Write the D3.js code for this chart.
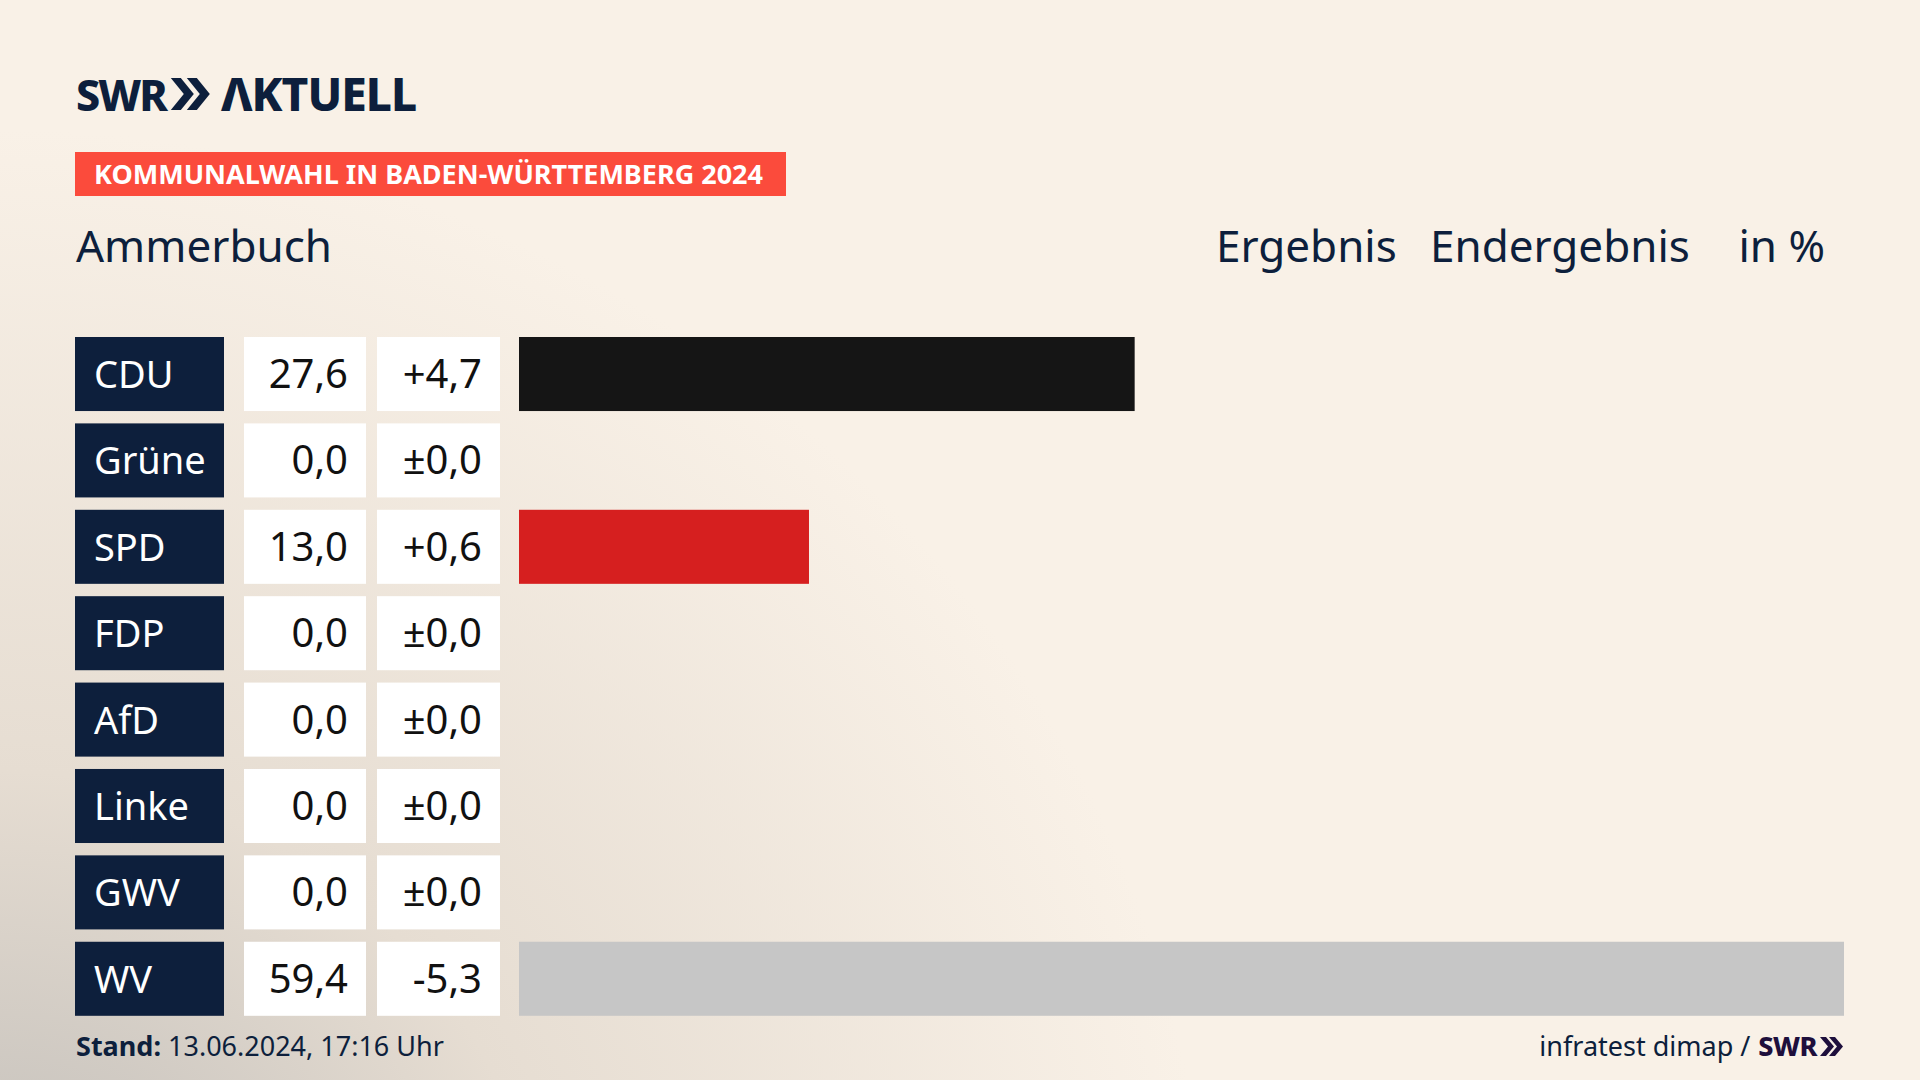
<!DOCTYPE html>
<html><head><meta charset="utf-8">
<script src="https://cdn.jsdelivr.net/npm/d3@7"></script>
<style>html,body{margin:0;padding:0;overflow:hidden}svg{display:block}</style>
</head><body>
<script>
const parties = ["CDU","Grüne","SPD","FDP","AfD","Linke","GWV","WV"];
const results = [27.6,0.0,13.0,0.0,0.0,0.0,0.0,59.4];
const diffs = ["+4,7","±0,0","+0,6","±0,0","±0,0","±0,0","±0,0","-5,3"];
const barColors = ["#151515","#1e8f3a","#d61f1f","#f5d000","#1a9fdb","#b0206e","#777777","#c6c6c6"];

const W=1920,H=1080,F="'Noto Sans', 'Open Sans', sans-serif";
const svg=d3.select("body").append("svg").attr("width",W).attr("height",H);
const defs=svg.append("defs");
const rg=defs.append("radialGradient").attr("id","bg").attr("cx","0").attr("cy","1").attr("r","0.9")
 .attr("gradientTransform","scale(0.7,1.2)");
rg.append("stop").attr("offset","0").attr("stop-color","#bdbab6");
rg.append("stop").attr("offset","0.45").attr("stop-color","#e6ddd2");
rg.append("stop").attr("offset","1").attr("stop-color","#f9f1e7");
svg.append("rect").attr("width",W).attr("height",H).attr("fill","#f9f1e7");
svg.append("rect").attr("width",W).attr("height",H).attr("fill","url(#bg)");

const navy="#0d1f3c";
// logo
const s1=svg.append("text").attr("x",76).attr("y",111).attr("font-family",F).attr("font-weight",800)
 .attr("font-size",43).attr("fill",navy).attr("letter-spacing",-2).text("SWR");
const e1=76+s1.node().getComputedTextLength()+5;
[0,16].forEach(dx=>svg.append("path").attr("d",`M${e1+dx},78 l10,0 l13,16 l-13,16 l-10,0 l13,-16z`).attr("fill",navy));
svg.append("text").attr("x",221).attr("y",111).attr("font-family",F).attr("font-weight",800)
 .attr("font-size",46).attr("fill",navy).attr("letter-spacing",-1).text("ΛKTUELL");
// banner
svg.append("rect").attr("x",75).attr("y",152).attr("width",711).attr("height",44).attr("fill","#fb4b3c");
svg.append("text").attr("x",94).attr("y",184).attr("font-family",F).attr("font-weight",700)
 .attr("font-size",27).attr("fill","#fff").text("KOMMUNALWAHL IN BADEN-WÜRTTEMBERG 2024");
const hdr=(x,t,a)=>svg.append("text").attr("x",x).attr("y",262).attr("font-family",F)
 .attr("font-size",44).attr("fill",navy).attr("text-anchor",a||"start").text(t);
hdr(76,"Ammerbuch");hdr(1216,"Ergebnis");hdr(1430,"Endergebnis");hdr(1825,"in %","end");

const y=d3.scaleBand().domain(parties).range([337,337+86.4*7+74]).paddingInner(0.143).paddingOuter(0);
const x=d3.scaleLinear().domain([0,59.4]).range([519,1844]);
const fmt=v=>v.toFixed(1).replace(".",",");
const g=svg.selectAll("g.row").data(parties).join("g");
const bh=y.bandwidth();
g.append("rect").attr("x",75).attr("y",d=>y(d)).attr("width",149).attr("height",bh).attr("fill",navy);
g.append("text").attr("x",94).attr("y",d=>y(d)+bh/2+14).attr("font-family",F).attr("font-size",38)
 .attr("fill","#fff").text(d=>d);
g.append("rect").attr("x",244).attr("y",d=>y(d)).attr("width",122).attr("height",bh).attr("fill","#fff");
g.append("text").attr("x",348).attr("y",d=>y(d)+bh/2+14).attr("font-family",F).attr("font-size",40)
 .attr("text-anchor","end").attr("fill","#111").text((d,i)=>fmt(results[i]));
g.append("rect").attr("x",377).attr("y",d=>y(d)).attr("width",123).attr("height",bh).attr("fill","#fff");
g.append("text").attr("x",482).attr("y",d=>y(d)+bh/2+14).attr("font-family",F).attr("font-size",40)
 .attr("text-anchor","end").attr("fill","#111").text((d,i)=>diffs[i]);
g.append("rect").attr("x",x(0)).attr("y",d=>y(d)).attr("width",(d,i)=>x(results[i])-x(0)).attr("height",bh)
 .attr("fill",(d,i)=>barColors[i]);

svg.append("text").attr("x",76).attr("y",1056).attr("font-family",F).attr("font-size",27).attr("fill",navy)
 .html('<tspan font-weight="700">Stand:</tspan> 13.06.2024, 17:16 Uhr');
const sw=svg.append("text").attr("x",0).attr("y",1056).attr("font-family",F).attr("font-weight",800).attr("font-size",27)
 .attr("fill","#1e0f3c").attr("letter-spacing",-0.5).text("SWR");
const swL=sw.node().getComputedTextLength();
const chevStart=1844-24, swX=chevStart-3-swL;
sw.attr("x",swX);
[0,9].forEach(dx=>svg.append("path").attr("d",`M${chevStart+dx},1037 l6,0 l8,9.5 l-8,9.5 l-6,0 l8,-9.5z`).attr("fill","#1e0f3c"));
svg.append("text").attr("x",swX-8).attr("y",1056).attr("font-family",F).attr("font-size",27).attr("fill",navy)
 .attr("text-anchor","end").text("infratest dimap /");
</script></body></html>
